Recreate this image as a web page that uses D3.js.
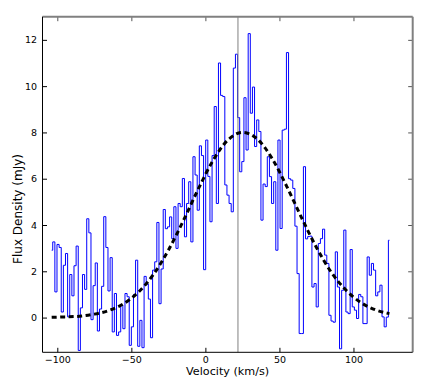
<!DOCTYPE html>
<html>
<head>
<meta charset="utf-8">
<script src="https://cdn.jsdelivr.net/npm/d3@7"></script>
<style>
  html, body { margin: 0; padding: 0; background: #ffffff; }
  svg { display: block; }
</style>
</head>
<body>
<svg id="chart" width="432" height="388"></svg>
<script>
// ---- Data ----
// Spectrum: flux density per velocity channel (mJy)
const flux = [
  2.91, 3.27, 1.11, 3.16, 3.03, 0.24, 2.26, 2.77, 0.03, 1.86,
  0.94, 2.24, 3.09, -1.42, 0.42, 1.86, 1.22, 4.27, 3.66, -0.09,
  1.38, 2.36, -0.58, 0.37, 1.35, 4.36, 3.03, 1.15, 2.59, -0.62,
  1.04, -0.77, -0.62, 0.53, -0.48, 1.04, 0.9, -1.2, -0.4, 1.0,
  2.48, -1.24, -0.12, -1.3, 1.78, 1.45, 0.8, -0.87, 2.05, 2.41,
  4.11, 0.6, 2.1, 4.67, 3.84, 3.92, 4.35, 3.41, 4.79, 2.99,
  4.93, 4.79, 6.01, 3.49, 4.93, 5.87, 3.27, 6.95, 6.16, 4.64,
  7.42, 7.0, 2.07, 7.67, 6.1, 4.14, 7.0, 9.12, 4.93, 11.0,
  9.6, 9.55, 5.73, 5.29, 4.93, 4.57, 10.78, 11.38, 8.64, 6.3,
  6.74, 9.5, 7.24, 12.27, 8.83, 9.96, 7.39, 8.54, 8.04, 4.21,
  5.77, 5.66, 6.95, 6.09, 4.93, 5.87, 2.91, 7.67, 3.85, 8.1,
  8.14, 11.45, 6.0, 5.94, 5.58, 3.95, 1.9, -0.69, -0.69, 6.52,
  3.4, 3.5, 3.52, 1.32, 1.47, 0.46, 3.2, 3.41, 3.82, 2.7,
  2.34, 0.1, -0.15, -0.2, 2.84, 1.32, -1.35, 1.18, 3.78, 0.24,
  0.17, 2.94, 0.46, 0.32, -0.04, 1.0, 0.9, -0.26, -0.26, 2.62,
  1.83, 2.34, 2.05, 0.94, 1.11, 1.4, 0.03, -0.4, 0.02, 3.34
];
// Velocity grid of the spectral channels (km/s): first channel and channel width
const channelStart = -103.8;
const channelWidth = 1.4346;

// Gaussian fit (dashed)
const fitVelocity = [-103.8, -95, -85, -75, -65, -55, -45, -35, -25, -15, -5, 5,
                     15, 25, 35, 45, 55, 65, 75, 85, 95, 105, 115, 124.3];
const fitFlux     = [0.01, 0.03, 0.06, 0.15, 0.31, 0.61, 1.11, 1.87, 2.91, 4.17, 5.53, 6.77,
                     7.66, 8.0, 7.72, 6.88, 5.66, 4.31, 3.03, 1.96, 1.18, 0.65, 0.33, 0.17];

// Reference velocity marker (km/s)
const markerVelocity = 22;

// Axis ticks
const xTicks = [-100, -50, 0, 50, 100];
const yTicks = [0, 2, 4, 6, 8, 10, 12];
const xLabel = "Velocity (km/s)";
const yLabel = "Flux Density (mJy)";

// ---- Drawing ----
const svg = d3.select("#chart");
const L = 42.5, R = 412.7, T = 16.7, B = 352.3;

const x = d3.scaleLinear().domain([-110, 140]).range([L, R]);
const y = d3.scaleLinear().domain([-1.5, 13]).range([B, T]);

const velocity = flux.map((_, i) => channelStart + i * channelWidth);
const spectrum = flux.map((f, i) => ({ v: velocity[i], f }));

svg.append("defs").append("clipPath").attr("id", "plotclip")
  .append("rect").attr("x", L).attr("y", T).attr("width", R - L).attr("height", B - T);

const plot = svg.append("g").attr("clip-path", "url(#plotclip)");

// spectrum step line
plot.append("path")
  .datum(spectrum)
  .attr("fill", "none")
  .attr("stroke", "#0000ff")
  .attr("stroke-width", 1)
  .attr("d", d3.line().x(d => x(d.v)).y(d => y(d.f)).curve(d3.curveStep));

// vertical marker line
plot.append("line")
  .attr("x1", x(markerVelocity)).attr("x2", x(markerVelocity))
  .attr("y1", T).attr("y2", B)
  .attr("stroke", "#808080").attr("stroke-width", 1);

// gaussian fit
const fit = fitVelocity.map((v, i) => ({ v, f: fitFlux[i] }));
plot.append("path")
  .datum(fit)
  .attr("fill", "none")
  .attr("stroke", "#000000")
  .attr("stroke-width", 3)
  .attr("stroke-dasharray", "5,3.5")
  .attr("d", d3.line().x(d => x(d.v)).y(d => y(d.f)).curve(d3.curveMonotoneX));

// axes (inward ticks)
const tickLen = 4.5;
const fmt = d3.format("");
const axFont = "'DejaVu Sans', sans-serif";

const xAxisB = d3.axisBottom(x).tickValues(xTicks).tickSizeInner(-tickLen).tickSizeOuter(0).tickPadding(3.7).tickFormat(fmt);
const gxb = svg.append("g").attr("transform", `translate(0,${B})`).call(xAxisB);
const xAxisT = d3.axisTop(x).tickValues(xTicks).tickSizeInner(-tickLen).tickSizeOuter(0).tickFormat("");
const gxt = svg.append("g").attr("transform", `translate(0,${T})`).call(xAxisT);
const yAxisL = d3.axisLeft(y).tickValues(yTicks).tickSizeInner(-tickLen).tickSizeOuter(0).tickPadding(5.5).tickFormat(fmt);
const gyl = svg.append("g").attr("transform", `translate(${L},0)`).call(yAxisL);
const yAxisR = d3.axisRight(y).tickValues(yTicks).tickSizeInner(-tickLen).tickSizeOuter(0).tickFormat("");
const gyr = svg.append("g").attr("transform", `translate(${R},0)`).call(yAxisR);

[gxb, gxt, gyl, gyr].forEach(g => {
  g.select(".domain").remove();
  g.selectAll(".tick line").attr("stroke", "#000").attr("stroke-width", 1);
  g.selectAll(".tick text").attr("font-family", axFont).attr("font-size", "9.5px").attr("fill", "#000");
});
gxt.selectAll(".tick line").attr("stroke", "#555");
gyr.selectAll(".tick line").attr("stroke", "#555");

// spines
svg.append("line").attr("x1", L).attr("x2", R).attr("y1", T).attr("y2", T)
  .attr("stroke", "#808080").attr("stroke-width", 2);
svg.append("line").attr("x1", R).attr("x2", R).attr("y1", T).attr("y2", B)
  .attr("stroke", "#808080").attr("stroke-width", 2);
svg.append("line").attr("x1", L).attr("x2", L).attr("y1", T).attr("y2", B)
  .attr("stroke", "#000").attr("stroke-width", 1);
svg.append("line").attr("x1", L).attr("x2", R).attr("y1", B).attr("y2", B)
  .attr("stroke", "#000").attr("stroke-width", 1);

// axis labels
svg.append("text")
  .attr("x", (L + R) / 2).attr("y", 375)
  .attr("text-anchor", "middle")
  .attr("font-family", axFont).attr("font-size", "11.2px").attr("fill", "#000")
  .text(xLabel);
svg.append("text")
  .attr("transform", `translate(21.5,209) rotate(-90)`)
  .attr("text-anchor", "middle")
  .attr("font-family", axFont).attr("font-size", "12px").attr("fill", "#000")
  .text(yLabel);
</script>
</body>
</html>
